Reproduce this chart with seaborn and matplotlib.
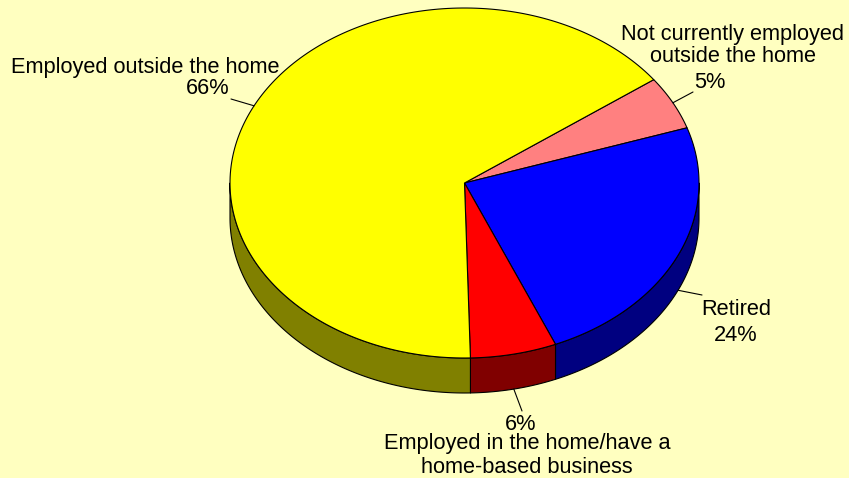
import numpy as np
import matplotlib
matplotlib.use("Agg")
import matplotlib.pyplot as plt
from matplotlib.patches import Polygon
import seaborn as sns

# Survey shares by employment status (percent)
categories = [
    "Not currently employed\noutside the home",
    "Retired",
    "Employed in the home/have a\nhome-based business",
    "Employed outside the home",
]
shares = [5, 24, 6, 66]
value_labels = ["5%", "24%", "6%", "66%"]

top_colors = ["#FF8080", "#0000FF", "#FF0000", "#FFFF00"]
side_colors = ["#804040", "#000080", "#800000", "#808000"]
background = "#FFFFC0"

sns.set_theme(style="white")
plt.rcParams["font.family"] = ["Liberation Sans", "DejaVu Sans"]

W, H = 849, 478
fig = plt.figure(figsize=(W / 100, H / 100), dpi=100, facecolor=background)
ax = fig.add_axes([0, 0, 1, 1])
ax.set_facecolor(background)
ax.set_xlim(0, W)
ax.set_ylim(H, 0)
ax.axis("off")

# Pie geometry in pixel units (tilted disc seen from above)
cx, cy, rx, ry, depth = 464.5, 183.0, 234.5, 175.0, 35.0
start_angle = 36.2


def arc(t0, t1, dy=0.0, n=200):
    t = np.radians(np.linspace(t0, t1, n))
    return np.column_stack([cx + rx * np.cos(t), cy - ry * np.sin(t) + dy])


frac = np.asarray(shares, dtype=float) / np.sum(shares)
bounds = start_angle - 360 * np.concatenate([[0], np.cumsum(frac)])

edge_kw = dict(edgecolor="black", linewidth=0.8, joinstyle="round")

# Visible front wall of every slice
for i in range(len(shares)):
    hi, lo = bounds[i], bounds[i + 1]
    for k in (-1, 0, 1):
        a = max(lo, -180 + 360 * k)
        b = min(hi, 360 * k)
        if b > a:
            top = arc(b, a)
            bottom = arc(a, b, dy=depth)
            ax.add_patch(Polygon(np.vstack([top, bottom]), closed=True,
                                 facecolor=side_colors[i], zorder=1, **edge_kw))

# Top faces
for i in range(len(shares)):
    pts = np.vstack([[cx, cy], arc(bounds[i], bounds[i + 1])])
    ax.add_patch(Polygon(pts, closed=True, facecolor=top_colors[i],
                         zorder=2, **edge_kw))

# Label placement: leader end point and (x, baseline) for each text line
layout = [
    dict(end=(693, 92),
         lines=[(733, 40), (733, 62)], value=(710, 88)),
    dict(end=(702, 295),
         lines=[(736, 315)], value=(736, 341)),
    dict(end=(522, 411),
         lines=[(527, 449), (527, 473)], value=(521, 430)),
    dict(end=(231, 99),
         lines=[(145, 73)], value=(208, 94)),
]

fs = 15.7
for i, lay in enumerate(layout):
    mid = np.radians((bounds[i] + bounds[i + 1]) / 2)
    sx = cx + rx * np.cos(mid)
    sy = cy - ry * np.sin(mid) + (depth if np.sin(mid) < 0 else 0)
    ex, ey = lay["end"]
    ax.plot([sx, ex], [sy, ey], color="black", lw=0.8, zorder=3)
    for text, (x, y) in zip(categories[i].split("\n"), lay["lines"]):
        ax.text(x, y, text, ha="center", va="baseline", fontsize=fs,
                color="black", zorder=4)
    vx, vy = lay["value"]
    ax.text(vx, vy, value_labels[i], ha="center", va="baseline", fontsize=fs,
            color="black", zorder=4)

fig.savefig("out.png", dpi=100, facecolor=background)
